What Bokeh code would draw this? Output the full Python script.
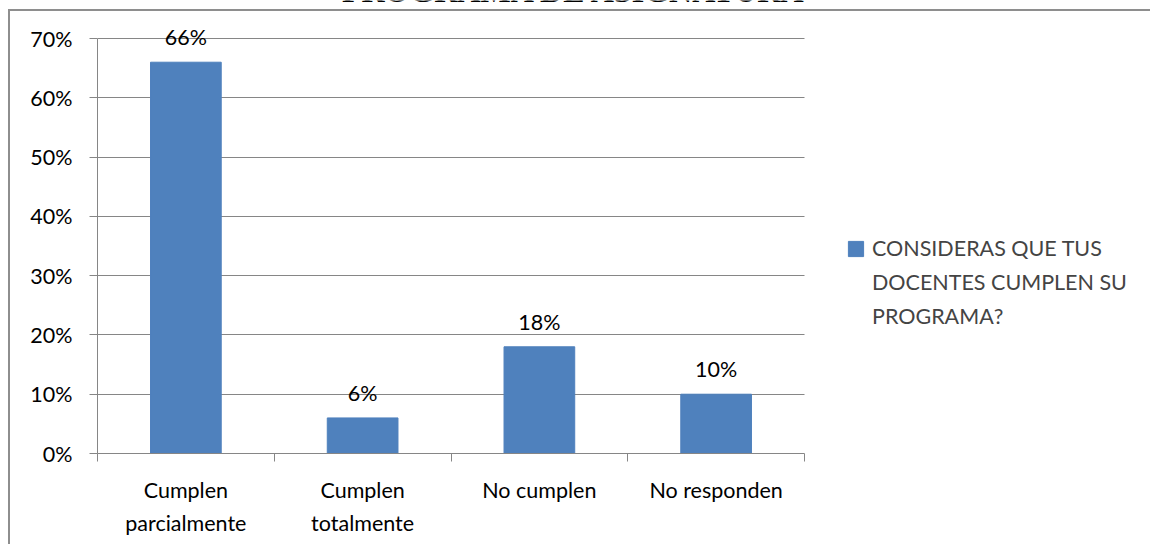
from bokeh.plotting import figure
from bokeh.models import (Range1d, FixedTicker, NumeralTickFormatter, LabelSet, Label,
                          ColumnDataSource, Legend, LegendItem)
from bokeh.core.properties import value
from bokeh.embed import file_html
from bokeh.resources import INLINE

# ---- data ----
categories = ["Cumplen\nparcialmente", "Cumplen\ntotalmente", "No cumplen", "No responden"]
values = [0.66, 0.06, 0.18, 0.10]
value_labels = ["66%", "6%", "18%", "10%"]
y_ticks = [0.0, 0.1, 0.2, 0.3, 0.4, 0.5, 0.6, 0.7]
series_name_lines = ["CONSIDERAS QUE TUS", "DOCENTES CUMPLEN SU", "PROGRAMA?"]
title_text = "PROGRAMA DE ASIGNATURA"

n = len(categories)
centers = [i + 0.5 for i in range(n)]
bounds = [float(i) for i in range(n + 1)]

FONT = "Lato"
FS = "21.5px"
GRAY = "#868686"

W, H = 1150, 544
FRAME_L, FRAME_B = 97, 453          # pixel geometry of the frame
CAT_PX = 176.75                      # pixels per category
PX_PER_UNIT = 415 / 0.7              # pixels per 100 %

x_end = (W - FRAME_L) / CAT_PX
y_end = FRAME_B / PX_PER_UNIT

border_css = ("linear-gradient(#8e8e8e,#8e8e8e) 8px 9px / 100% 2px no-repeat, "
              "linear-gradient(#8e8e8e,#8e8e8e) 8px 9px / 2px 100% no-repeat, #ffffff")

p = figure(width=W, height=H, x_range=Range1d(0, x_end), y_range=Range1d(0, y_end),
           output_backend="svg", toolbar_location=None,
           min_border_left=FRAME_L, min_border_right=0, min_border_top=0,
           min_border_bottom=H - FRAME_B,
           styles={"background": border_css})
p.outline_line_color = None
p.background_fill_color = None
p.border_fill_color = None

src = ColumnDataSource(dict(x=centers, top=values, lab=value_labels))
bars = p.vbar(x="x", top="top", width=0.4, source=src, fill_color="#4F81BD",
              line_color="#4F81BD")

# y axis
ya = p.yaxis[0]
ya.ticker = FixedTicker(ticks=y_ticks)
ya.formatter = NumeralTickFormatter(format="0%")
ya.bounds = (0, 0.7)
ya.major_tick_out = 8
ya.major_tick_in = 0
ya.minor_tick_line_color = None
ya.axis_line_color = GRAY
ya.major_tick_line_color = GRAY
ya.major_label_text_font = FONT
ya.major_label_text_font_size = FS
ya.major_label_text_color = "black"
ya.major_label_standoff = 17

# x axis
xa = p.xaxis[0]
xa.ticker = FixedTicker(ticks=centers, minor_ticks=bounds)
xa.bounds = (0, n)
xa.major_label_overrides = {c: lab for c, lab in zip(centers, categories)}
xa.major_tick_line_color = None
xa.major_tick_out = 0
xa.major_tick_in = 0
xa.minor_tick_out = 8
xa.minor_tick_in = 0
xa.minor_tick_line_color = GRAY
xa.axis_line_color = GRAY
xa.major_label_text_font = FONT
xa.major_label_text_font_size = FS
xa.major_label_text_color = "black"
xa.major_label_text_line_height = 1.3
xa.major_label_standoff = 15

p.xgrid.visible = False
p.ygrid.grid_line_color = GRAY
p.ygrid.grid_line_width = 1
try:
    p.ygrid.cross_bounds = (0, n)
except Exception:
    pass

labels = LabelSet(x="x", y="top", text="lab", source=src, text_align="center",
                  text_baseline="middle", y_offset=25, text_font=value(FONT),
                  text_font_size=value(FS), text_color="black")
p.add_layout(labels)

items = [LegendItem(label=series_name_lines[0], renderers=[bars])]
for line in series_name_lines[1:]:
    items.append(LegendItem(label=line, renderers=[]))

legend = Legend(items=items, location=(749, 120), glyph_width=19, glyph_height=19,
                label_standoff=7, padding=0, margin=0, spacing=0, label_height=34,
                border_line_color=None, background_fill_alpha=0,
                label_text_font=FONT, label_text_font_size=FS)
p.add_layout(legend)

title = Label(x=(574 - FRAME_L) / CAT_PX, y=0.759, y_offset=13, text=title_text,
              text_font="Liberation Serif", text_font_style="bold",
              text_font_size="32px", text_align="center",
              text_baseline="alphabetic", text_color="black")
p.add_layout(title)

open("out.html", "w").write(file_html(p, INLINE))
